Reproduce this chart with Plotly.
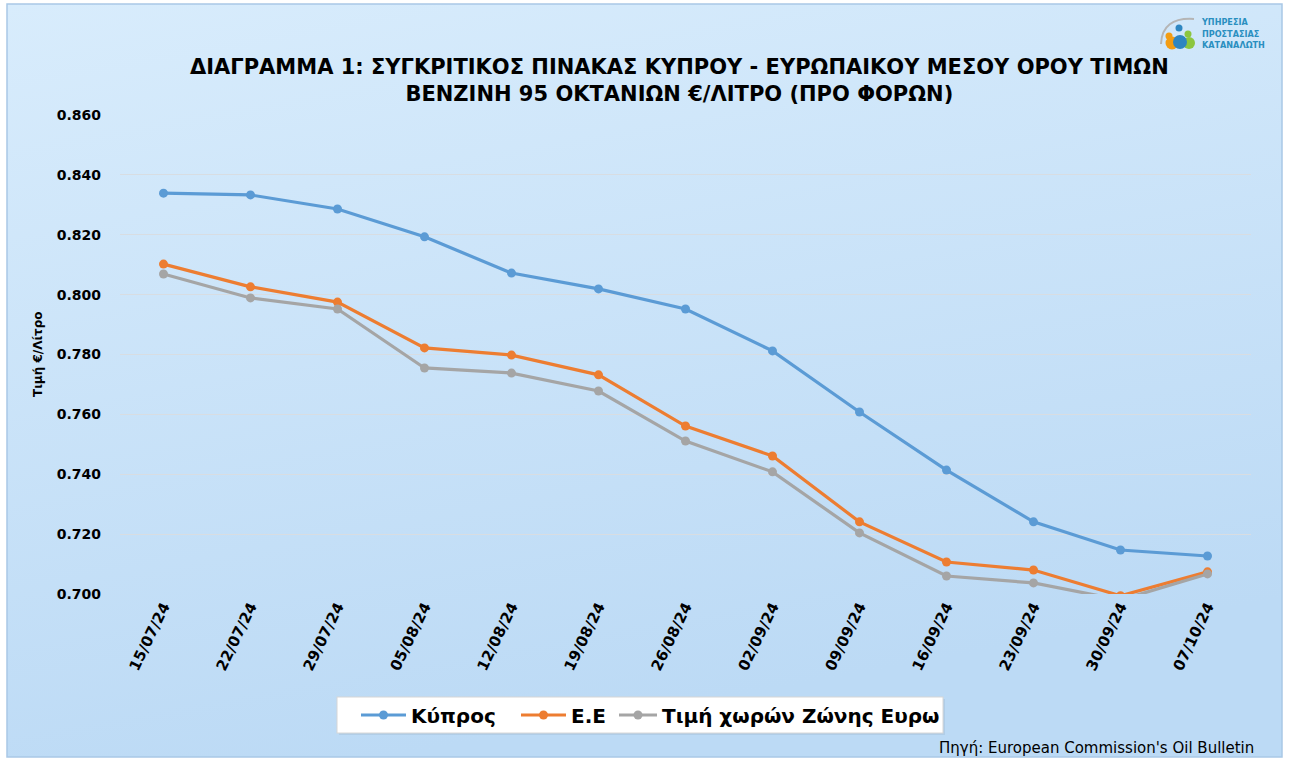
import base64
import plotly.graph_objects as go

dates = ["15/07/24", "22/07/24", "29/07/24", "05/08/24", "12/08/24", "19/08/24", "26/08/24",
         "02/09/24", "09/09/24", "16/09/24", "23/09/24", "30/09/24", "07/10/24"]
cyprus = [0.8339, 0.8333, 0.8286, 0.8193, 0.8072, 0.8019, 0.7952, 0.7812, 0.7608, 0.7414, 0.7241, 0.7147, 0.7127]
eu = [0.8102, 0.8026, 0.7975, 0.7822, 0.7798, 0.7732, 0.7561, 0.7461, 0.7241, 0.7107, 0.7080, 0.6994, 0.7074]
euro_zone = [0.8069, 0.7989, 0.7952, 0.7755, 0.7738, 0.7678, 0.7511, 0.7408, 0.7204, 0.7060, 0.7037, 0.6980, 0.7067]

W, H = 1289, 761
L, R, T, B = 120, 1251, 115, 594
pw, ph = R - L, B - T
FONT = "DejaVu Sans, Verdana, Arial"

def px(x):
    return (x - L) / pw

def py(y):
    return (B - y) / ph

fig = go.Figure()
series = [("Κύπρος", cyprus, "#5b9bd5"), ("Ε.Ε", eu, "#ed7d31"), ("Τιμή χωρών Ζώνης Ευρω", euro_zone, "#a5a5a5")]
legend_ids = ["legend", "legend2", "legend3"]
for i, (name, vals, col) in enumerate(series):
    fig.add_trace(go.Scatter(x=dates, y=vals, name=name, mode="lines+markers", legend=legend_ids[i],
                             line=dict(color=col, width=3.2), marker=dict(color=col, size=9)))

svg = f'''<svg xmlns="http://www.w3.org/2000/svg" width="{W}" height="{H}" viewBox="0 0 {W} {H}" preserveAspectRatio="none">
<defs><linearGradient id="g" x1="0" y1="0" x2="0.3" y2="1">
<stop offset="0" stop-color="#d8ecfc"/><stop offset="1" stop-color="#bcdaf5"/></linearGradient></defs>
<rect x="0" y="0" width="{W}" height="{H}" fill="#ffffff"/>
<rect x="7" y="4" width="{W-14}" height="{H-8}" fill="url(#g)" stroke="#a9c8e6" stroke-width="1.5"/>
<rect x="339" y="699" width="606" height="36" fill="#a8c4de" opacity="0.6"/>
<rect x="337" y="697" width="606" height="36" fill="#ffffff" stroke="#d6d6d6" stroke-width="1"/>
</svg>'''
src = "data:image/svg+xml;base64," + base64.b64encode(svg.encode()).decode()
fig.add_layout_image(dict(source=src, xref="paper", yref="paper", x=px(0), y=py(0),
                          sizex=W / pw, sizey=H / ph, xanchor="left", yanchor="top",
                          sizing="stretch", layer="below"))

# logo
shapes = []
def circ(cx, cy, r, col):
    shapes.append(dict(type="circle", xref="paper", yref="paper", x0=px(cx - r), x1=px(cx + r),
                       y0=py(cy + r), y1=py(cy - r), fillcolor=col, line=dict(width=0)))
shapes.append(dict(type="path", xref="paper", yref="paper",
                   path=f"M {px(1161)} {py(44)} Q {px(1162)} {py(17)} {px(1194)} {py(19)}",
                   line=dict(color="#b5b5b5", width=2)))
circ(1179, 28, 3.5, "#2e86c1")
circ(1188, 34, 3.5, "#8cc63f")
circ(1169, 36, 3.5, "#f39c12")
circ(1172, 43, 6.5, "#f39c12")
circ(1189, 43, 6, "#8cc63f")
circ(1180, 42, 7, "#2e86c1")
fig.update_layout(shapes=shapes)

ann = []
ann.append(dict(text="<b>ΥΠΗΡΕΣΙΑ<br>ΠΡΟΣΤΑΣΙΑΣ<br>ΚΑΤΑΝΑΛΩΤΗ</b>", xref="paper", yref="paper", x=px(1199), y=py(33),
                xanchor="left", yanchor="middle", showarrow=False, align="left",
                font=dict(family="DejaVu Sans Condensed, Roboto Condensed, Arial", size=9, color="#2a8fc0")))
ann.append(dict(text="<b>ΔΙΑΓΡΑΜΜΑ 1: ΣΥΓΚΡΙΤΙΚΟΣ ΠΙΝΑΚΑΣ ΚΥΠΡΟΥ - ΕΥΡΩΠΑΙΚΟΥ ΜΕΣΟΥ ΟΡΟΥ ΤΙΜΩΝ<br>ΒΕΝΖΙΝΗ 95 ΟΚΤΑΝΙΩΝ €/ΛΙΤΡΟ (ΠΡΟ ΦΟΡΩΝ)</b>",
                xref="paper", yref="paper", x=px(679), y=py(81), xanchor="center", yanchor="middle",
                showarrow=False, font=dict(family=FONT, size=21, color="#000000")))
ann.append(dict(text="Πηγή: European Commission's Oil Bulletin", xref="paper", yref="paper",
                x=px(1256), y=py(748), xanchor="right", yanchor="middle", showarrow=False,
                font=dict(family=FONT, size=15, color="#000000")))
ann.append(dict(text="<b>Τιμή €/Λίτρο</b>", xref="paper", yref="paper", x=px(38), y=py(354),
                xanchor="center", yanchor="middle", textangle=-90, showarrow=False,
                font=dict(family=FONT, size=12, color="#000000")))
fig.update_layout(annotations=ann)

leg_common = dict(orientation="h", yanchor="middle", xanchor="left", bgcolor="rgba(0,0,0,0)",
                  borderwidth=0, font=dict(size=20, family=FONT, weight="bold", color="#000000"))
fig.update_layout(
    legend=dict(x=px(356), y=py(715), itemwidth=45, **leg_common),
    legend2=dict(x=px(516), y=py(715), itemwidth=45, **leg_common),
    legend3=dict(x=px(614), y=py(715), itemwidth=38, **leg_common),
)

fig.update_layout(
    width=W, height=H,
    margin=dict(l=L, r=W - R, t=T, b=H - B, autoexpand=False),
    paper_bgcolor="#ffffff", plot_bgcolor="rgba(0,0,0,0)",
    font=dict(family=FONT, color="#000000"),
    showlegend=True,
    xaxis=dict(type="category", range=[-0.5, len(dates) - 0.5], tickangle=-64, showgrid=False,
               showline=False, ticks="", automargin=False, tickfont=dict(size=15, weight="bold"),
               zeroline=False),
    yaxis=dict(range=[0.700, 0.860], dtick=0.02, tick0=0.7, tickformat=".3f", automargin=False,
               showgrid=True, gridcolor="#d8dde2", gridwidth=1, zeroline=False, showline=False,
               ticks="", ticklabelstandoff=18, tickfont=dict(size=14, weight="bold")),
)

fig.write_html("out.html", config={"displayModeBar": False},
               post_script="document.body.style.margin='0';document.body.style.overflow='hidden';")
